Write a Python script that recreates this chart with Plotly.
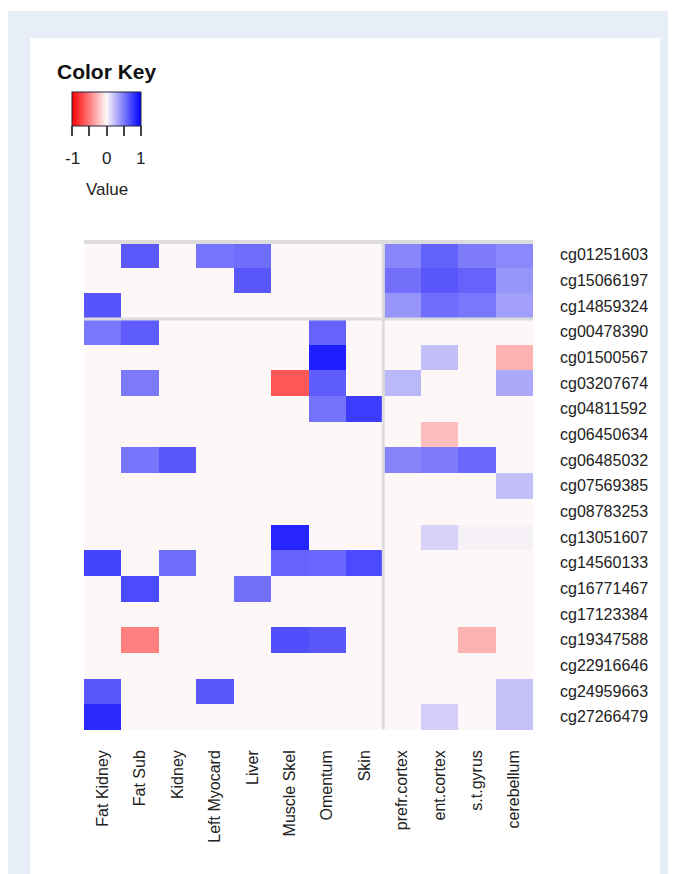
import plotly.graph_objects as go

col_labels = ["Fat Kidney", "Fat Sub", "Kidney", "Left Myocard", "Liver", "Muscle Skel",
              "Omentum", "Skin", "prefr.cortex", "ent.cortex", "s.t.gyrus", "cerebellum"]
row_labels = ["cg01251603", "cg15066197", "cg14859324", "cg00478390", "cg01500567",
              "cg03207674", "cg04811592", "cg06450634", "cg06485032", "cg07569385",
              "cg08783253", "cg13051607", "cg14560133", "cg16771467", "cg17123384",
              "cg19347588", "cg22916646", "cg24959663", "cg27266479"]
values = [
    [0, 0.64, 0, 0.53, 0.56, 0, 0, 0, 0.46, 0.61, 0.50, 0.45],
    [0, 0, 0, 0, 0.65, 0, 0, 0, 0.55, 0.65, 0.60, 0.40],
    [0.66, 0, 0, 0, 0, 0, 0, 0, 0.40, 0.56, 0.52, 0.36],
    [0.52, 0.63, 0, 0, 0, 0, 0.60, 0, 0, 0, 0, 0],
    [0, 0, 0, 0, 0, 0, 0.88, 0, 0, 0.23, 0, -0.28],
    [0, 0.51, 0, 0, 0, -0.65, 0.63, 0, 0.26, 0, 0, 0.32],
    [0, 0, 0, 0, 0, 0, 0.54, 0.76, 0, 0, 0, 0],
    [0, 0, 0, 0, 0, 0, 0, 0, 0, -0.23, 0, 0],
    [0, 0.53, 0.65, 0, 0, 0, 0, 0, 0.47, 0.50, 0.58, 0],
    [0, 0, 0, 0, 0, 0, 0, 0, 0, 0, 0, 0.23],
    [0, 0, 0, 0, 0, 0, 0, 0, 0, 0, 0, 0],
    [0, 0, 0, 0, 0, 0.85, 0, 0, 0, 0.15, 0.03, 0.03],
    [0.73, 0, 0.56, 0, 0, 0.60, 0.59, 0.70, 0, 0, 0, 0],
    [0, 0.70, 0, 0, 0.55, 0, 0, 0, 0, 0, 0, 0],
    [0, 0, 0, 0, 0, 0, 0, 0, 0, 0, 0, 0],
    [0, -0.48, 0, 0, 0, 0.68, 0.65, 0, 0, 0, -0.28, 0],
    [0, 0, 0, 0, 0, 0, 0, 0, 0, 0, 0, 0],
    [0.65, 0, 0, 0.65, 0, 0, 0, 0, 0, 0, 0, 0.22],
    [0.83, 0, 0, 0, 0, 0, 0, 0, 0, 0.17, 0, 0.22],
]
key_tickvals = [-1, -0.5, 0, 0.5, 1]
key_labels = ["-1", "0", "1"]
key_label_vals = [-1, 0, 1]

OFF = 8  # page body margin
W, H = 676 - OFF, 874 - OFF
# plot area in screenshot pixels
PL, PR, PT, PB = 82, 535, 240, 731
pw, ph = PR - PL, PB - PT


def xp(px):
    return (px - PL) / pw


def yp(py):
    return (PB - py) / ph


FONT = "Liberation Sans, Arial, sans-serif"
colorscale = [[0, "#ff0000"], [0.5, "#fdf8f7"], [1, "#0000ff"]]

fig = go.Figure()
fig.add_trace(go.Heatmap(
    z=values, x=col_labels, y=row_labels,
    zmin=-1, zmax=1, colorscale=colorscale,
    colorbar=dict(
        orientation="h", lenmode="pixels", len=69, thickness=34,
        x=xp(106.5), xanchor="center", y=yp(92), yanchor="top",
        xpad=0, ypad=0, outlinecolor="#222244", outlinewidth=1,
        tickvals=key_tickvals, ticks="outside", ticklen=10, tickwidth=1.5,
        tickcolor="#444", showticklabels=False,
    ),
    hoverongaps=False,
))

shapes = [
    dict(type="rect", xref="paper", yref="paper", x0=xp(8), x1=xp(700), y0=yp(900), y1=yp(11),
         fillcolor="#e8eef8", line=dict(width=0), layer="below"),
    dict(type="rect", xref="paper", yref="paper", x0=xp(30), x1=xp(660), y0=yp(900), y1=yp(38),
         fillcolor="#ffffff", line=dict(width=0), layer="below"),
    dict(type="line", x0=-0.5, x1=11.5, y0=-0.5, y1=-0.5, line=dict(color="#dcdcdc", width=4)),
    dict(type="line", x0=-0.5, x1=11.5, y0=2.5, y1=2.5, line=dict(color="#dcdcdc", width=3)),
    dict(type="line", x0=7.5, x1=7.5, y0=-0.5, y1=18.5, line=dict(color="#dcdcdc", width=3)),
]

annotations = [
    dict(text="<b>Color Key</b>", x=xp(107), y=yp(71), xref="paper", yref="paper",
         xanchor="center", yanchor="middle",
         showarrow=False, font=dict(size=21, color="#111", family=FONT)),
    dict(text="Value", x=xp(107), y=yp(189), xref="paper", yref="paper",
         xanchor="center", yanchor="middle",
         showarrow=False, font=dict(size=17, color="#222", family=FONT)),
]
for v, t in zip(key_label_vals, key_labels):
    annotations.append(dict(text=t, x=xp(72 + (v + 1) / 2 * 68), y=yp(159), xref="paper", yref="paper",
                            xanchor="center", yanchor="middle",
                            showarrow=False, font=dict(size=17, color="#222", family=FONT)))

fig.update_layout(
    width=W, height=H,
    margin=dict(l=PL - OFF, r=W - (PR - OFF), t=PT - OFF, b=H - (PB - OFF), pad=0),
    paper_bgcolor="#ffffff", plot_bgcolor="#ffffff",
    font=dict(family=FONT, color="#222"),
    shapes=shapes, annotations=annotations,
    xaxis=dict(tickangle=-90, tickfont=dict(size=16), showgrid=False, zeroline=False,
               ticks="", ticklabelstandoff=15, fixedrange=True),
    yaxis=dict(side="right", autorange="reversed", tickfont=dict(size=16), showgrid=False,
               zeroline=False, ticks="", ticklabelstandoff=24, fixedrange=True),
)

fig.write_html("out.html")
